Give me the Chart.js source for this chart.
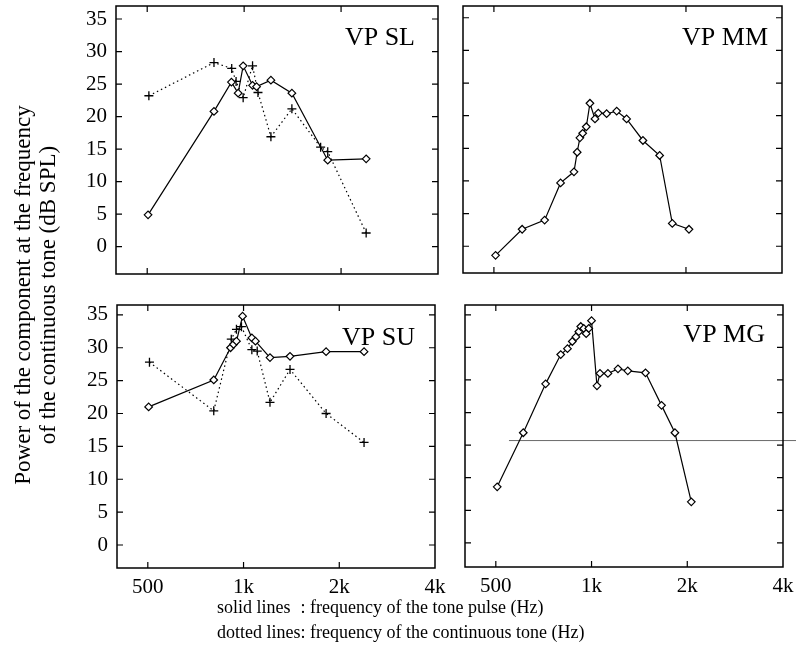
<!DOCTYPE html>
<html lang="en">
<head>
  <meta charset="UTF-8">
  <title>VP tone pulse / continuous tone</title>
  <script src="https://cdn.jsdelivr.net/npm/chart.js"></script>
  <style>
    body { margin: 0; background: #fff; }
    #wrap { position: relative; width: 796px; height: 659px; font-family: "Liberation Serif", serif; color: #000; }
    #wrap canvas { position: absolute; left: 0; top: 0; }
    #ytitle {
      position: absolute; left: -215px; top: 270px; width: 500px; height: 50px;
      text-align: center; line-height: 25px; font-size: 23px;
      transform: rotate(-90deg); white-space: nowrap;
    }
    #notes {
      position: absolute; left: 217px; top: 595px; font-size: 18px; line-height: 25px;
      display: grid; grid-template-columns: auto auto; white-space: pre;
    }
  </style>
</head>
<body>
  <div id="wrap">
    <canvas id="tl" width="796" height="659"></canvas>
    <canvas id="tr" width="796" height="659"></canvas>
    <canvas id="bl" width="796" height="659"></canvas>
    <canvas id="br" width="796" height="659"></canvas>
    <div id="ytitle">Power of the component at the frequency<br>of the continuous tone (dB SPL)</div>
    <div id="notes"><span>solid lines </span><span>: frequency of the tone pulse (Hz)</span><span>dotted lines</span><span>: frequency of the continuous tone (Hz)</span></div>
  </div>
  <script>
    // axis ticks
    const xTicks = [500, 1000, 2000, 4000];
    const xTickLabels = ['500', '1k', '2k', '4k'];
    const yTicks = [0, 5, 10, 15, 20, 25, 30, 35];
    const panelNames = ['VP SL', 'VP MM', 'VP SU', 'VP MG'];

    // VP SL
    const slPulseFreq = [503, 806, 913, 958, 993, 1062, 1093, 1211, 1407, 1818, 2393];
    const slPulseDb = [4.9, 20.8, 25.3, 23.6, 27.8, 24.8, 24.6, 25.6, 23.6, 13.3, 13.5];
    const slContFreq = [506, 806, 915, 944, 993, 1062, 1104, 1211, 1407, 1728, 1818, 2393];
    const slContDb = [23.2, 28.3, 27.4, 25.4, 22.9, 27.8, 23.7, 16.9, 21.2, 15.3, 14.6, 2.1];

    // VP MM
    const mmPulseFreq = [506, 613, 721, 809, 891, 912, 930, 949, 974, 1000, 1037, 1062, 1128, 1213, 1303, 1466, 1654, 1812, 2044];
    const mmPulseDb = [-1.4, 2.6, 4.0, 9.7, 11.4, 14.4, 16.6, 17.3, 18.3, 21.9, 19.5, 20.4, 20.3, 20.7, 19.5, 16.2, 13.9, 3.5, 2.6];

    // VP SU
    const suPulseFreq = [503, 806, 910, 930, 950, 993, 1062, 1090, 1211, 1400, 1818, 2393];
    const suPulseDb = [21.0, 25.1, 30.0, 30.5, 31.0, 34.8, 31.5, 31.0, 28.5, 28.7, 29.4, 29.4];
    const suContFreq = [506, 806, 915, 950, 985, 1062, 1104, 1211, 1400, 1818, 2393];
    const suContDb = [27.8, 20.4, 31.3, 32.8, 33.2, 29.7, 29.5, 21.7, 26.7, 20.0, 15.6];

    // VP MG
    const mgPulseFreq = [505, 610, 717, 800, 840, 870, 893, 912, 925, 945, 962, 980, 1000, 1040, 1063, 1126, 1211, 1300, 1478, 1660, 1829, 2059];
    const mgPulseDb = [8.6, 16.9, 24.4, 28.9, 29.8, 30.9, 31.6, 32.4, 33.2, 32.9, 32.1, 32.9, 34.1, 24.1, 26.0, 26.0, 26.7, 26.4, 26.1, 21.1, 16.9, 6.3];
    // stray horizontal line across the MG panel
    const mgStrayFreq = [550, 4400];
    const mgStrayDb = [15.7, 15.7];

    const pts = (xs, ys) => xs.map((x, i) => ({ x: x, y: ys[i] }));

    const pulse = (xs, ys) => ({
      data: pts(xs, ys), borderColor: '#000', borderWidth: 1.2,
      pointStyle: 'rectRot', pointRadius: 3.8, pointBorderWidth: 1.2,
      pointBackgroundColor: '#fff', pointBorderColor: '#000'
    });
    const cont = (xs, ys) => ({
      data: pts(xs, ys), borderColor: '#000', borderWidth: 1.2, borderDash: [1.5, 3],
      pointStyle: 'cross', pointRadius: 4.5, pointBorderWidth: 1.3,
      pointBorderColor: '#000', pointBackgroundColor: '#000'
    });

    // frame with inward ticks + panel name
    const framePlugin = {
      id: 'frame',
      afterDraw(chart) {
        const { ctx, chartArea: a, scales } = chart;
        ctx.save();
        ctx.strokeStyle = '#000';
        ctx.lineWidth = 1.5;
        ctx.strokeRect(a.left, a.top, a.width, a.height);
        ctx.lineWidth = 1.2;
        ctx.beginPath();
        yTicks.forEach(v => {
          const py = scales.y.getPixelForValue(v);
          ctx.moveTo(a.left, py); ctx.lineTo(a.left + 6, py);
          ctx.moveTo(a.right, py); ctx.lineTo(a.right - 6, py);
        });
        xTicks.forEach(v => {
          const px = scales.x.getPixelForValue(v);
          if (px > a.right - 2) return;
          ctx.moveTo(px, a.bottom); ctx.lineTo(px, a.bottom - 6);
          ctx.moveTo(px, a.top); ctx.lineTo(px, a.top + 6);
        });
        ctx.stroke();
        const o = chart.options.plugins.frame;
        ctx.fillStyle = '#000';
        ctx.font = '26px "Liberation Serif"';
        ctx.textAlign = 'right';
        ctx.textBaseline = 'alphabetic';
        ctx.fillText(o.name, a.right - o.dx, a.top + o.dy);
        ctx.restore();
      }
    };

    const makeChart = (id, datasets, cfg) => {
      new Chart(document.getElementById(id), {
        type: 'line',
        data: { datasets: datasets },
        options: {
          responsive: false,
          animation: false,
          layout: { padding: cfg.pad, autoPadding: false },
          plugins: {
            legend: { display: false },
            tooltip: { enabled: false },
            frame: { name: cfg.name, dx: cfg.dx, dy: cfg.dy }
          },
          elements: { line: { tension: 0 } },
          scales: {
            x: {
              type: 'logarithmic', min: 400, max: 4000,
              grid: { display: false, drawTicks: false }, border: { display: false },
              afterBuildTicks: s => { s.ticks = xTicks.map(v => ({ value: v })); },
              ticks: {
                display: cfg.xLabels, color: '#000', padding: 7,
                font: { family: 'Liberation Serif', size: 21 },
                autoSkip: false, maxRotation: 0,
                callback: v => xTickLabels[xTicks.indexOf(v)]
              },
              afterFit: s => { s.height = cfg.xLabels ? 32 : 0; s.paddingLeft = 0; s.paddingRight = 0; }
            },
            y: {
              min: cfg.yMin, max: cfg.yMax,
              grid: { display: false, drawTicks: false }, border: { display: false },
              afterBuildTicks: s => { s.ticks = yTicks.map(v => ({ value: v })); },
              ticks: {
                display: cfg.yLabels, color: '#000', padding: 9,
                font: { family: 'Liberation Serif', size: 21 }
              },
              afterFit: s => { s.width = cfg.yLabels ? 60 : 0; s.paddingTop = 0; s.paddingBottom = 0; }
            }
          }
        },
        plugins: [framePlugin]
      });
    };

    makeChart('tl', [pulse(slPulseFreq, slPulseDb), cont(slContFreq, slContDb)], {
      pad: { left: 56, right: 358, top: 6, bottom: 385 }, yMin: -4.2, yMax: 37,
      xLabels: false, yLabels: true, name: panelNames[0], dx: 23, dy: 39
    });
    makeChart('tr', [pulse(mmPulseFreq, mmPulseDb)], {
      pad: { left: 463, right: 14, top: 6, bottom: 386 }, yMin: -4.1, yMax: 36.8,
      xLabels: false, yLabels: false, name: panelNames[1], dx: 14, dy: 39
    });
    makeChart('bl', [pulse(suPulseFreq, suPulseDb), cont(suContFreq, suContDb)], {
      pad: { left: 57, right: 361, top: 305, bottom: 59 }, yMin: -3.5, yMax: 36.5,
      xLabels: true, yLabels: true, name: panelNames[2], dx: 20, dy: 40
    });
    makeChart('br', [
      pulse(mgPulseFreq, mgPulseDb),
      { data: pts(mgStrayFreq, mgStrayDb), borderColor: '#444', borderWidth: 0.8, pointRadius: 0, clip: false }
    ], {
      pad: { left: 465, right: 13, top: 305, bottom: 60 }, yMin: -3.7, yMax: 36.5,
      xLabels: true, yLabels: false, name: panelNames[3], dx: 18, dy: 37
    });
  </script>
</body>
</html>
